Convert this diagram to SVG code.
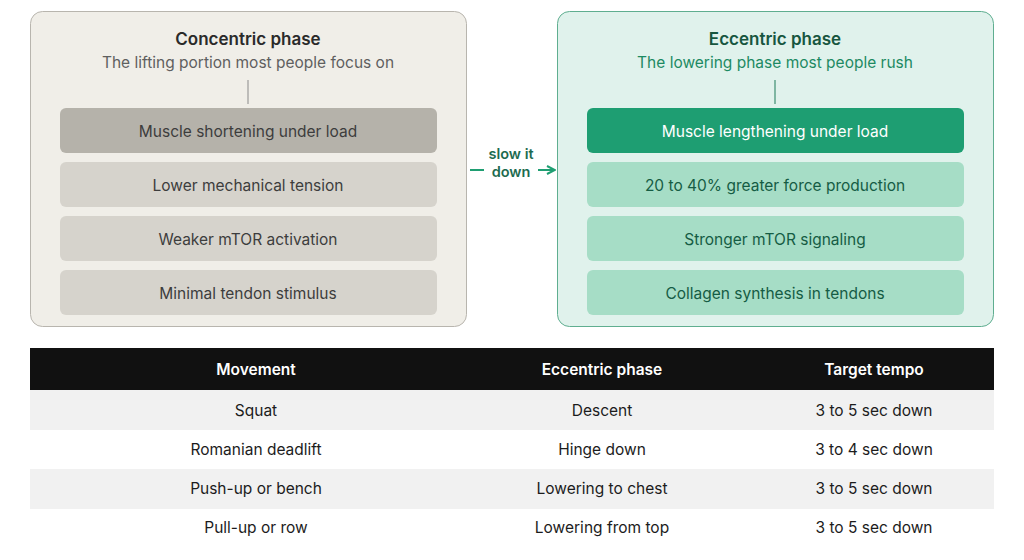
<svg xmlns="http://www.w3.org/2000/svg" width="1024" height="560" viewBox="0 0 1024 560">
<style>
text{font-family:Inter,"Liberation Sans",sans-serif;text-anchor:middle}
.t{font-size:17px;font-weight:600;fill:#2a2a2a}
.s{font-size:15.5px}
.b{font-size:15.5px;fill:#3d3d3d}
.g{fill:#d6d3cc}
.m{fill:#a6ddc6}
.td{font-size:15.5px;fill:#1c1c1c}
.th{font-size:15.5px;font-weight:600;fill:#fff}
</style>
<defs><marker id="a" viewBox="0 0 10 10" refX="9" refY="5" markerWidth="10" markerHeight="10" markerUnits="userSpaceOnUse" orient="auto"><path d="M1 1L9 5L1 9" fill="none" stroke="#1f9e72" stroke-width="2"/></marker></defs>
<g id="concentric">
<rect x="30.5" y="11.5" width="436" height="315" rx="12" fill="#f0eee8" stroke="#b8b5ae"/>
<text class="t" x="248" y="45">Concentric phase</text>
<text class="s" x="248" y="68" fill="#5f5f5f">The lifting portion most people focus on</text>
<line x1="248" y1="80" x2="248" y2="104" stroke="#8a8a8a"/>
<rect x="60" y="108" width="377" height="45" rx="6" fill="#b5b2aa"/>
<text class="b" x="248" y="137" fill="#2e2e2e">Muscle shortening under load</text>
<rect class="g" x="60" y="162" width="377" height="45" rx="6"/>
<text class="b" x="248" y="191">Lower mechanical tension</text>
<rect class="g" x="60" y="216" width="377" height="45" rx="6"/>
<text class="b" x="248" y="245">Weaker mTOR activation</text>
<rect class="g" x="60" y="270" width="377" height="45" rx="6"/>
<text class="b" x="248" y="299">Minimal tendon stimulus</text>
</g>
<g id="eccentric">
<rect x="557.5" y="11.5" width="436" height="315" rx="12" fill="#e0f2ec" stroke="#5fae90"/>
<text class="t" x="775" y="45" fill="#1b5e47" style="fill:#17563f">Eccentric phase</text>
<text class="s" x="775" y="68" fill="#1d8a63">The lowering phase most people rush</text>
<line x1="775" y1="80" x2="775" y2="104" stroke="#1d7a58"/>
<rect x="587" y="108" width="377" height="45" rx="6" fill="#1e9e72"/>
<text class="b" x="775" y="137" fill="#fff" style="fill:#fff">Muscle lengthening under load</text>
<rect class="m" x="587" y="162" width="377" height="45" rx="6"/>
<text class="b" x="775" y="191" style="fill:#155c44">20 to 40% greater force production</text>
<rect class="m" x="587" y="216" width="377" height="45" rx="6"/>
<text class="b" x="775" y="245" style="fill:#155c44">Stronger mTOR signaling</text>
<rect class="m" x="587" y="270" width="377" height="45" rx="6"/>
<text class="b" x="775" y="299" style="fill:#155c44">Collagen synthesis in tendons</text>
</g>
<g id="connectors">
<line x1="470" y1="170" x2="484" y2="170" stroke="#1f9e72" stroke-width="2"/>
<line x1="538" y1="170" x2="555" y2="170" stroke="#1f9e72" stroke-width="2" marker-end="url(#a)"/>
<text x="511" y="159" font-size="14.5" font-weight="600" fill="#1d6b50">slow it</text>
<text x="511" y="177" font-size="14.5" font-weight="600" fill="#1d6b50">down</text>
</g>
<g id="table">
<rect x="30" y="348" width="964" height="42" fill="#111"/>
<text class="th" x="256" y="375">Movement</text>
<text class="th" x="602" y="375">Eccentric phase</text>
<text class="th" x="874" y="375">Target tempo</text>
<rect x="30" y="390" width="964" height="40" fill="#f1f1f1"/>
<rect x="30" y="469" width="964" height="40" fill="#f1f1f1"/>
<text class="td" x="256" y="416">Squat</text><text class="td" x="602" y="416">Descent</text><text class="td" x="874" y="416">3 to 5 sec down</text>
<text class="td" x="256" y="455">Romanian deadlift</text><text class="td" x="602" y="455">Hinge down</text><text class="td" x="874" y="455">3 to 4 sec down</text>
<text class="td" x="256" y="494">Push-up or bench</text><text class="td" x="602" y="494">Lowering to chest</text><text class="td" x="874" y="494">3 to 5 sec down</text>
<text class="td" x="256" y="533">Pull-up or row</text><text class="td" x="602" y="533">Lowering from top</text><text class="td" x="874" y="533">3 to 5 sec down</text>
</g>
</svg>
